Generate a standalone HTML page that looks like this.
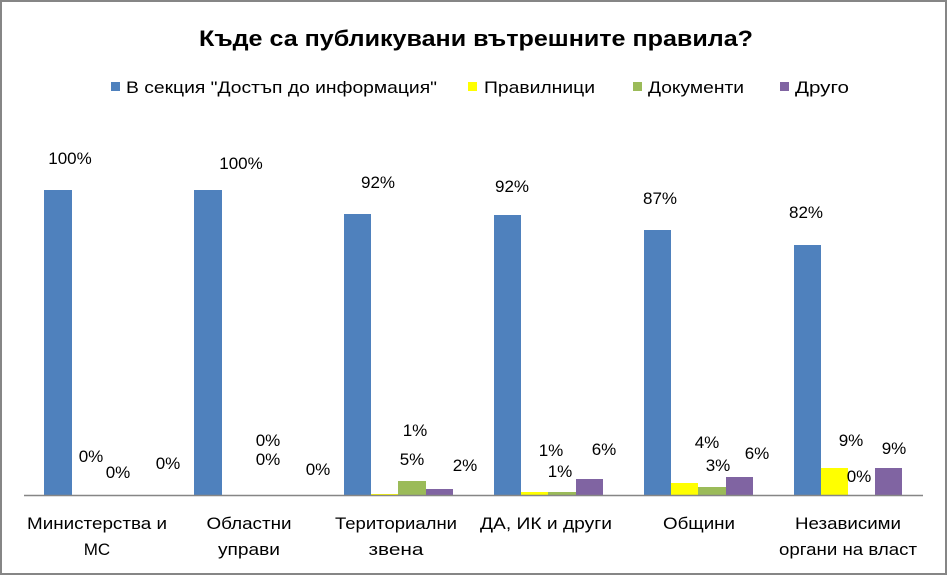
<!DOCTYPE html>
<html><head><meta charset="utf-8"><style>
html,body{margin:0;padding:0;background:#fff}
svg{display:block}
text{font-family:"Liberation Sans","DejaVu Sans",sans-serif;fill:#000}
</style></head><body>
<svg width="947" height="575" viewBox="0 0 947 575" xmlns="http://www.w3.org/2000/svg">
<rect x="1" y="1" width="945" height="573" fill="#fff" stroke="#868686" stroke-width="2"/>
<text x="476" y="46" text-anchor="middle" font-size="22" font-weight="bold" textLength="554" lengthAdjust="spacingAndGlyphs">Къде са публикувани вътрешните правила?</text>
<g font-size="17">
<rect x="111" y="82" width="9" height="9" fill="#4F81BD"/>
<text x="126" y="93" textLength="311" lengthAdjust="spacingAndGlyphs">В секция "Достъп до информация"</text>
<rect x="468" y="82" width="9" height="9" fill="#FFFF00"/>
<text x="484" y="93" textLength="111" lengthAdjust="spacingAndGlyphs">Правилници</text>
<rect x="633" y="82" width="9" height="9" fill="#9BBB59"/>
<text x="648" y="93" textLength="96" lengthAdjust="spacingAndGlyphs">Документи</text>
<rect x="780" y="82" width="9" height="9" fill="#8064A2"/>
<text x="795" y="93" textLength="54" lengthAdjust="spacingAndGlyphs">Друго</text>
</g>
<!-- bars -->
<g>
<rect x="44" y="190" width="28" height="305" fill="#4F81BD"/>
<rect x="194" y="190" width="28" height="305" fill="#4F81BD"/>
<rect x="344" y="214" width="27" height="281" fill="#4F81BD"/>
<rect x="371" y="494" width="27" height="1" fill="#FFFF00"/>
<rect x="398" y="481" width="28" height="14" fill="#9BBB59"/>
<rect x="426" y="489" width="27" height="6" fill="#8064A2"/>
<rect x="494" y="215" width="27" height="280" fill="#4F81BD"/>
<rect x="521" y="492" width="27" height="3" fill="#FFFF00"/>
<rect x="548" y="492" width="28" height="3" fill="#9BBB59"/>
<rect x="576" y="479" width="27" height="16" fill="#8064A2"/>
<rect x="644" y="230" width="27" height="265" fill="#4F81BD"/>
<rect x="671" y="483" width="27" height="12" fill="#FFFF00"/>
<rect x="698" y="487" width="28" height="8" fill="#9BBB59"/>
<rect x="726" y="477" width="27" height="18" fill="#8064A2"/>
<rect x="794" y="245" width="27" height="250" fill="#4F81BD"/>
<rect x="821" y="468" width="27" height="27" fill="#FFFF00"/>
<rect x="875" y="468" width="27" height="27" fill="#8064A2"/>
</g>
<line x1="24" y1="495.5" x2="923" y2="495.5" stroke="#868686" stroke-width="1.5"/>
<g font-size="17" text-anchor="middle">
<text x="70" y="164">100%</text>
<text x="91" y="462">0%</text>
<text x="118" y="478">0%</text>
<text x="168" y="469">0%</text>
<text x="241" y="169">100%</text>
<text x="268" y="446">0%</text>
<text x="268" y="465">0%</text>
<text x="318" y="475">0%</text>
<text x="378" y="188">92%</text>
<text x="415" y="436">1%</text>
<text x="412" y="465">5%</text>
<text x="465" y="471">2%</text>
<text x="512" y="192">92%</text>
<text x="551" y="456">1%</text>
<text x="560" y="477">1%</text>
<text x="604" y="455">6%</text>
<text x="660" y="204">87%</text>
<text x="707" y="448">4%</text>
<text x="718" y="471">3%</text>
<text x="757" y="459">6%</text>
<text x="806" y="218">82%</text>
<text x="851" y="446">9%</text>
<text x="859" y="482">0%</text>
<text x="894" y="454">9%</text>
</g>
<g font-size="17" text-anchor="middle">
<text x="97" y="529" textLength="140" lengthAdjust="spacingAndGlyphs">Министерства и</text>
<text x="97" y="555">МС</text>
<text x="249" y="529" textLength="85" lengthAdjust="spacingAndGlyphs">Областни</text>
<text x="249" y="555" textLength="62" lengthAdjust="spacingAndGlyphs">управи</text>
<text x="396" y="529" textLength="122" lengthAdjust="spacingAndGlyphs">Териториални</text>
<text x="396" y="555" textLength="55" lengthAdjust="spacingAndGlyphs">звена</text>
<text x="546" y="529" textLength="132" lengthAdjust="spacingAndGlyphs">ДА, ИК и други</text>
<text x="699" y="529" textLength="72" lengthAdjust="spacingAndGlyphs">Общини</text>
<text x="848" y="529" textLength="106" lengthAdjust="spacingAndGlyphs">Независими</text>
<text x="848" y="555" textLength="138" lengthAdjust="spacingAndGlyphs">органи на власт</text>
</g>
</svg>
</body></html>
